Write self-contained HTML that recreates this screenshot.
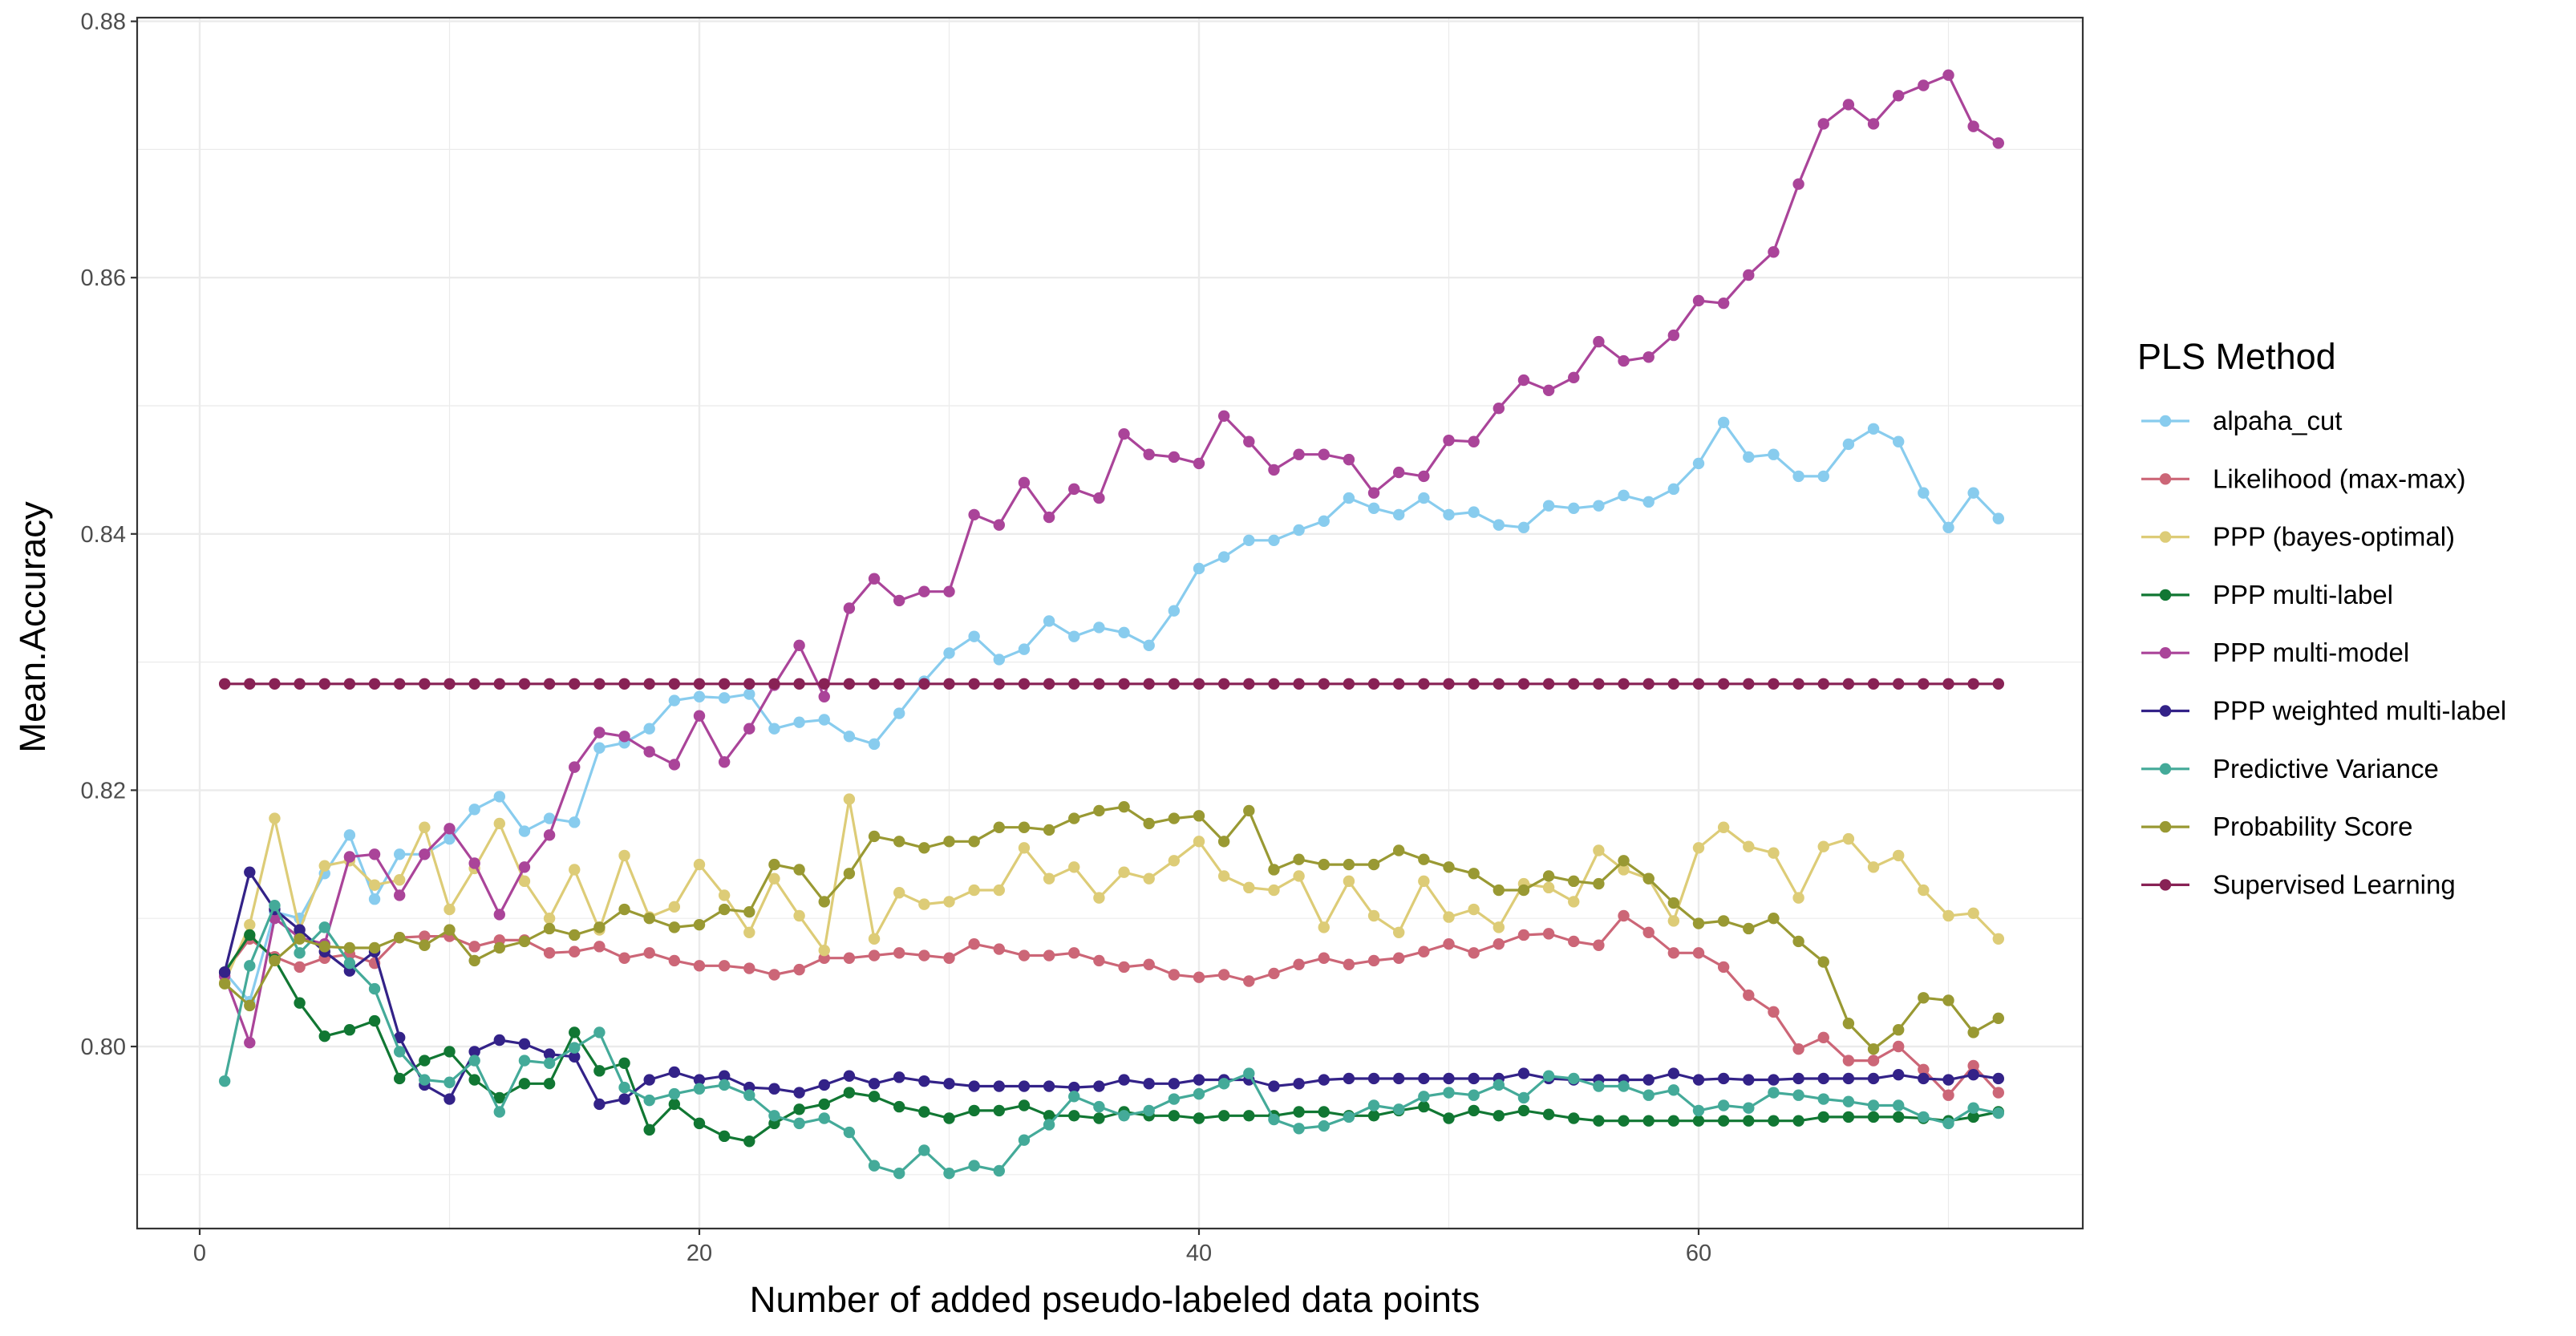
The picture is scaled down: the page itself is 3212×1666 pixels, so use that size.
<!DOCTYPE html>
<html><head><meta charset="utf-8"><style>
html,body{margin:0;padding:0;background:#fff;}
svg{display:block;font-family:"Liberation Sans",Arial,sans-serif;}
</style></head><body>
<svg id="chart" width="3212" height="1666" viewBox="0 0 3212 1666" xmlns="http://www.w3.org/2000/svg"></svg>
<script>
const xs = Array.from({length:72},(_,i)=>i+1);
const seriesNames = ["alpaha_cut","Likelihood (max-max)","PPP (bayes-optimal)","PPP multi-label","PPP multi-model","PPP weighted multi-label","Predictive Variance","Probability Score","Supervised Learning"];
const seriesColors = ["#88CCEE","#CC6677","#DDCC77","#117733","#AA4499","#332288","#44AA99","#999933","#882255"];
const alphaCut = [0.8058,0.8035,0.8105,0.8100,0.8135,0.8165,0.8115,0.8150,0.8150,0.8162,0.8185,0.8195,0.8168,0.8178,0.8175,0.8233,0.8237,0.8248,0.8270,0.8273,0.8272,0.8275,0.8248,0.8253,0.8255,0.8242,0.8236,0.8260,0.8285,0.8307,0.8320,0.8302,0.8310,0.8332,0.8320,0.8327,0.8323,0.8313,0.8340,0.8373,0.8382,0.8395,0.8395,0.8403,0.8410,0.8428,0.8420,0.8415,0.8428,0.8415,0.8417,0.8407,0.8405,0.8422,0.8420,0.8422,0.8430,0.8425,0.8435,0.8455,0.8487,0.8460,0.8462,0.8445,0.8445,0.8470,0.8482,0.8472,0.8432,0.8405,0.8432,0.8412];
const likelihood = [0.8058,0.8084,0.8070,0.8062,0.8069,0.8072,0.8065,0.8085,0.8086,0.8086,0.8078,0.8083,0.8083,0.8073,0.8074,0.8078,0.8069,0.8073,0.8067,0.8063,0.8063,0.8061,0.8056,0.8060,0.8069,0.8069,0.8071,0.8073,0.8071,0.8069,0.8080,0.8076,0.8071,0.8071,0.8073,0.8067,0.8062,0.8064,0.8056,0.8054,0.8056,0.8051,0.8057,0.8064,0.8069,0.8064,0.8067,0.8069,0.8074,0.8080,0.8073,0.8080,0.8087,0.8088,0.8082,0.8079,0.8102,0.8089,0.8073,0.8073,0.8062,0.8040,0.8027,0.7998,0.8007,0.7989,0.7989,0.8000,0.7982,0.7962,0.7985,0.7964];
const bayesOpt = [0.8050,0.8095,0.8178,0.8091,0.8141,0.8145,0.8126,0.8130,0.8171,0.8107,0.8139,0.8174,0.8129,0.8100,0.8138,0.8091,0.8149,0.8101,0.8109,0.8142,0.8118,0.8089,0.8131,0.8102,0.8075,0.8193,0.8084,0.8120,0.8111,0.8113,0.8122,0.8122,0.8155,0.8131,0.8140,0.8116,0.8136,0.8131,0.8145,0.8160,0.8133,0.8124,0.8122,0.8133,0.8093,0.8129,0.8102,0.8089,0.8129,0.8101,0.8107,0.8093,0.8127,0.8124,0.8113,0.8153,0.8138,0.8131,0.8098,0.8155,0.8171,0.8156,0.8151,0.8116,0.8156,0.8162,0.8140,0.8149,0.8122,0.8102,0.8104,0.8084];
const multiLabel = [0.8058,0.8087,0.8068,0.8034,0.8008,0.8013,0.8020,0.7975,0.7989,0.7996,0.7974,0.7960,0.7971,0.7971,0.8011,0.7981,0.7987,0.7935,0.7955,0.7940,0.7930,0.7926,0.7940,0.7951,0.7955,0.7964,0.7961,0.7953,0.7949,0.7944,0.7950,0.7950,0.7954,0.7946,0.7946,0.7944,0.7949,0.7946,0.7946,0.7944,0.7946,0.7946,0.7946,0.7949,0.7949,0.7946,0.7946,0.7950,0.7953,0.7944,0.7950,0.7946,0.7950,0.7947,0.7944,0.7942,0.7942,0.7942,0.7942,0.7942,0.7942,0.7942,0.7942,0.7942,0.7945,0.7945,0.7945,0.7945,0.7944,0.7942,0.7945,0.7949];
const multiModel = [0.8055,0.8003,0.8100,0.8085,0.8080,0.8148,0.8150,0.8118,0.8150,0.8170,0.8143,0.8103,0.8140,0.8165,0.8218,0.8245,0.8242,0.8230,0.8220,0.8258,0.8222,0.8248,0.8282,0.8313,0.8273,0.8342,0.8365,0.8348,0.8355,0.8355,0.8415,0.8407,0.8440,0.8413,0.8435,0.8428,0.8478,0.8462,0.8460,0.8455,0.8492,0.8472,0.8450,0.8462,0.8462,0.8458,0.8432,0.8448,0.8445,0.8473,0.8472,0.8498,0.8520,0.8512,0.8522,0.8550,0.8535,0.8538,0.8555,0.8582,0.8580,0.8602,0.8620,0.8673,0.8720,0.8735,0.8720,0.8742,0.8750,0.8758,0.8718,0.8705];
const weightedML = [0.8058,0.8136,0.8107,0.8091,0.8074,0.8059,0.8074,0.8007,0.7970,0.7959,0.7996,0.8005,0.8002,0.7994,0.7992,0.7955,0.7959,0.7974,0.7980,0.7974,0.7977,0.7968,0.7967,0.7964,0.7970,0.7977,0.7971,0.7976,0.7973,0.7971,0.7969,0.7969,0.7969,0.7969,0.7968,0.7969,0.7974,0.7971,0.7971,0.7974,0.7974,0.7974,0.7969,0.7971,0.7974,0.7975,0.7975,0.7975,0.7975,0.7975,0.7975,0.7975,0.7979,0.7975,0.7974,0.7974,0.7974,0.7974,0.7979,0.7974,0.7975,0.7974,0.7974,0.7975,0.7975,0.7975,0.7975,0.7978,0.7975,0.7974,0.7978,0.7975];
const predVar = [0.7973,0.8063,0.8110,0.8073,0.8093,0.8065,0.8045,0.7996,0.7974,0.7972,0.7989,0.7949,0.7989,0.7987,0.7999,0.8011,0.7968,0.7958,0.7963,0.7967,0.7970,0.7962,0.7946,0.7940,0.7944,0.7933,0.7907,0.7901,0.7919,0.7901,0.7907,0.7903,0.7927,0.7939,0.7961,0.7953,0.7946,0.7950,0.7959,0.7963,0.7971,0.7979,0.7943,0.7936,0.7938,0.7945,0.7954,0.7951,0.7961,0.7964,0.7962,0.7970,0.7960,0.7977,0.7975,0.7969,0.7969,0.7962,0.7966,0.7950,0.7954,0.7952,0.7964,0.7962,0.7959,0.7957,0.7954,0.7954,0.7945,0.7940,0.7952,0.7948];
const probScore = [0.8049,0.8032,0.8067,0.8084,0.8078,0.8077,0.8077,0.8085,0.8079,0.8091,0.8067,0.8077,0.8082,0.8092,0.8087,0.8093,0.8107,0.8100,0.8093,0.8095,0.8107,0.8105,0.8142,0.8138,0.8113,0.8135,0.8164,0.8160,0.8155,0.8160,0.8160,0.8171,0.8171,0.8169,0.8178,0.8184,0.8187,0.8174,0.8178,0.8180,0.8160,0.8184,0.8138,0.8146,0.8142,0.8142,0.8142,0.8153,0.8146,0.8140,0.8135,0.8122,0.8122,0.8133,0.8129,0.8127,0.8145,0.8131,0.8112,0.8096,0.8098,0.8092,0.8100,0.8082,0.8066,0.8018,0.7998,0.8013,0.8038,0.8036,0.8011,0.8022];
const supervised = Array(72).fill(0.8283);
const xTicks = [0,20,40,60];
const xMinor = [10,30,50,70];
const yTicks = [0.80,0.82,0.84,0.86,0.88];
const yMinor = [0.79,0.81,0.83,0.85,0.87];

const allSeries = [alphaCut,likelihood,bayesOpt,multiLabel,multiModel,weightedML,predVar,probScore,supervised];
const P = {l:171,t:22,r:2597,b:1532};
const X = v => 249 + v*31.15;
const Y = v => 1305 - (v-0.80)*15980;
const NS = "http://www.w3.org/2000/svg";
const svg = document.getElementById('chart');
function mk(tag, attrs, parent){ const e=document.createElementNS(NS,tag); for(const k in attrs) e.setAttribute(k,attrs[k]); (parent||svg).appendChild(e); return e; }

const panel = mk('rect',{x:P.l,y:P.t,width:P.r-P.l,height:P.b-P.t,fill:'#fff'});


const grid = mk('g',{});


yMinor.forEach(v=>{ mk('line',{x1:P.l,x2:P.r,y1:Y(v),y2:Y(v),stroke:'#ebebeb','stroke-width':1.2},grid); });
xMinor.forEach(v=>{ mk('line',{y1:P.t,y2:P.b,x1:X(v),x2:X(v),stroke:'#ebebeb','stroke-width':1.2},grid); });
yTicks.forEach(v=>{ mk('line',{x1:P.l,x2:P.r,y1:Y(v),y2:Y(v),stroke:'#ebebeb','stroke-width':2.4},grid); });
xTicks.forEach(v=>{ mk('line',{y1:P.t,y2:P.b,x1:X(v),x2:X(v),stroke:'#ebebeb','stroke-width':2.4},grid); });

allSeries.forEach((arr,si)=>{
  const g = mk('g',{});
  
  
  const pts = arr.map((v,i)=>X(xs[i]).toFixed(1)+','+Y(v).toFixed(1)).join(' ');
  mk('polyline',{points:pts,fill:'none',stroke:seriesColors[si],'stroke-width':3.2,'stroke-linejoin':'round'},g);
  arr.forEach((v,i)=>{
    const c = mk('circle',{cx:X(xs[i]),cy:Y(v),r:7.2,fill:seriesColors[si]},g);
    
    
  });
});

const border = mk('rect',{x:P.l,y:P.t,width:P.r-P.l,height:P.b-P.t,fill:'none',stroke:'#333','stroke-width':2.2});



yTicks.forEach(v=>{
  mk('line',{x1:P.l-8,x2:P.l,y1:Y(v),y2:Y(v),stroke:'#333','stroke-width':2.2});
  const t = mk('text',{x:P.l-14,y:Y(v)+10,'text-anchor':'end','font-size':29,fill:'#4d4d4d'});
  t.textContent = v.toFixed(2);
  
  
});
xTicks.forEach(v=>{
  mk('line',{x1:X(v),x2:X(v),y1:P.b,y2:P.b+8,stroke:'#333','stroke-width':2.2});
  const t = mk('text',{x:X(v),y:P.b+40,'text-anchor':'middle','font-size':29,fill:'#4d4d4d'});
  t.textContent = String(v);
  
  
});
const xt = mk('text',{x:1390,y:1636,'text-anchor':'middle','font-size':45.5,fill:'#000'});
xt.textContent='Number of added pseudo-labeled data points';


const yt = mk('text',{x:0,y:0,'text-anchor':'middle','font-size':45.5,fill:'#000',transform:'translate(56,782) rotate(-90)'});
yt.textContent='Mean.Accuracy';



const lg = mk('g',{});


const lt = mk('text',{x:2665,y:460,'font-size':45,fill:'#000'},lg);
lt.textContent='PLS Method';


seriesNames.forEach((n,i)=>{
  const cy = 525 + i*72.3;
  const e = mk('g',{},lg);
  
  
  mk('line',{x1:2670,x2:2730,y1:cy,y2:cy,stroke:seriesColors[i],'stroke-width':3.2},e);
  mk('circle',{cx:2700,cy:cy,r:7.2,fill:seriesColors[i]},e);
  const t = mk('text',{x:2759,y:cy+11,'font-size':33,fill:'#000'},e);
  t.textContent=n;
});
</script>
</body></html>
